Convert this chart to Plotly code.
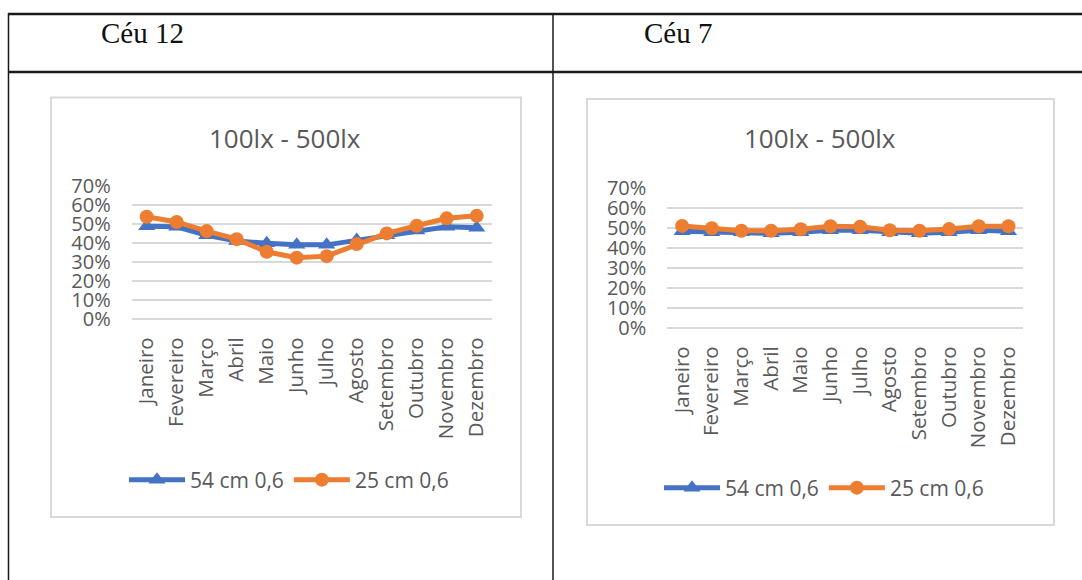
import plotly.graph_objects as go

W, H = 1082, 580

months = ["Janeiro", "Fevereiro", "Março", "Abril", "Maio", "Junho",
          "Julho", "Agosto", "Setembro", "Outubro", "Novembro", "Dezembro"]

# Céu 12 (percent of time between 100 lx and 500 lx)
ceu12_54cm = [48.8, 48.5, 44.0, 41.0, 39.8, 39.0, 39.0, 41.5, 44.0, 46.5, 48.5, 48.0]
ceu12_25cm = [53.7, 51.0, 46.2, 42.0, 35.4, 32.3, 33.1, 39.4, 45.0, 49.0, 52.9, 54.2]

# Céu 7
ceu7_54cm = [48.5, 48.0, 48.0, 47.5, 48.0, 49.0, 49.0, 48.0, 47.5, 48.0, 49.0, 48.5]
ceu7_25cm = [51.2, 50.0, 48.8, 48.8, 49.5, 51.0, 50.8, 49.0, 48.8, 49.6, 51.0, 51.0]

cell_titles = ["Céu 12", "Céu 7"]
chart_title = "100lx - 500lx"
series_names = ["54 cm 0,6", "25 cm 0,6"]

BLUE = "#4472C4"
ORANGE = "#ED7D31"
GRID = "#D9D9D9"
TEXT = "#595959"
FONT = "Open Sans"


def px_x(x):
    return x / W


def px_y(y):
    return 1 - y / H


fig = go.Figure()

panels = [
    dict(xa="x", ya="y", legend="legend", blue=ceu12_54cm, orange=ceu12_25cm),
    dict(xa="x2", ya="y2", legend="legend2", blue=ceu7_54cm, orange=ceu7_25cm),
]

for p in panels:
    fig.add_trace(go.Scatter(
        x=months, y=p["blue"], name=series_names[0], mode="lines+markers",
        line=dict(color=BLUE, width=5),
        marker=dict(symbol="triangle-up", size=15, color=BLUE),
        xaxis=p["xa"], yaxis=p["ya"], legend=p["legend"], cliponaxis=False,
    ))
    fig.add_trace(go.Scatter(
        x=months, y=p["orange"], name=series_names[1], mode="lines+markers",
        line=dict(color=ORANGE, width=5),
        marker=dict(symbol="circle", size=14, color=ORANGE),
        xaxis=p["xa"], yaxis=p["ya"], legend=p["legend"], cliponaxis=False,
    ))

xaxis_common = dict(
    type="category", range=[-0.5, 11.5], tickangle=-90, showgrid=False,
    zeroline=False, showline=False, ticks="", ticklabelstandoff=13,
    tickfont=dict(family=FONT, size=20.5, color=TEXT), fixedrange=True,
    automargin=False,
)
yaxis_common = dict(
    range=[0, 70], dtick=10, ticksuffix="%", showgrid=True, gridcolor=GRID,
    gridwidth=2, zeroline=True, zerolinecolor=GRID, zerolinewidth=2,
    showline=False, ticks="", ticklabelstandoff=20,
    tickfont=dict(family=FONT, size=20, color=TEXT), fixedrange=True,
    automargin=False,
)

legend_common = dict(
    orientation="h", xanchor="center", yanchor="middle",
    font=dict(family=FONT, size=21, color=TEXT), itemwidth=56,
    bgcolor="rgba(0,0,0,0)", itemclick=False, itemdoubleclick=False,
)

fig.update_layout(
    width=W, height=H,
    margin=dict(l=0, r=0, t=0, b=0, pad=0, autoexpand=False),
    paper_bgcolor="white", plot_bgcolor="white", showlegend=True,
    xaxis=dict(domain=[px_x(131.7), px_x(491.7)], anchor="y", **xaxis_common),
    yaxis=dict(domain=[px_y(319.3), px_y(185.7)], anchor="x", **yaxis_common),
    xaxis2=dict(domain=[px_x(667.3), px_x(1023.3)], anchor="y2", **xaxis_common),
    yaxis2=dict(domain=[px_y(328.3), px_y(188.3)], anchor="x2", **yaxis_common),
    legend=dict(x=px_x(289), y=px_y(480), **legend_common),
    legend2=dict(x=px_x(824), y=px_y(488), **legend_common),
)

shapes = []
# table rules
line_dark = "#1a1a1a"
shapes.append(dict(type="line", xref="paper", yref="paper", x0=px_x(8), x1=1,
                   y0=px_y(14), y1=px_y(14), line=dict(color=line_dark, width=2.5)))
shapes.append(dict(type="line", xref="paper", yref="paper", x0=px_x(8), x1=1,
                   y0=px_y(72), y1=px_y(72), line=dict(color=line_dark, width=2.5)))
shapes.append(dict(type="line", xref="paper", yref="paper", x0=px_x(8.5), x1=px_x(8.5),
                   y0=px_y(13), y1=0, line=dict(color=line_dark, width=1.5)))
shapes.append(dict(type="line", xref="paper", yref="paper", x0=px_x(553), x1=px_x(553),
                   y0=px_y(13), y1=0, line=dict(color=line_dark, width=1.5)))
# chart frames
for (x0, y0, x1, y1) in [(51, 97.5, 521, 517), (587, 99, 1054, 525)]:
    shapes.append(dict(type="rect", xref="paper", yref="paper",
                       x0=px_x(x0), x1=px_x(x1), y0=px_y(y1), y1=px_y(y0),
                       line=dict(color=GRID, width=2), fillcolor="rgba(0,0,0,0)",
                       layer="below"))
fig.update_layout(shapes=shapes)

annotations = [
    dict(text=cell_titles[0], x=px_x(99), y=px_y(33), xanchor="left", yanchor="middle"),
    dict(text=cell_titles[1], x=px_x(642), y=px_y(33), xanchor="left", yanchor="middle"),
]
for a in annotations:
    a.update(xref="paper", yref="paper", showarrow=False,
             font=dict(family="Liberation Serif", size=29, color="#111111"))
for cx in (285, 820):
    annotations.append(dict(text=chart_title, x=px_x(cx), y=px_y(138), xref="paper",
                            yref="paper", showarrow=False, xanchor="center",
                            yanchor="middle",
                            font=dict(family=FONT, size=26, color=TEXT)))
fig.update_layout(annotations=annotations)

fig.write_html("out.html", config={"displayModeBar": False})
